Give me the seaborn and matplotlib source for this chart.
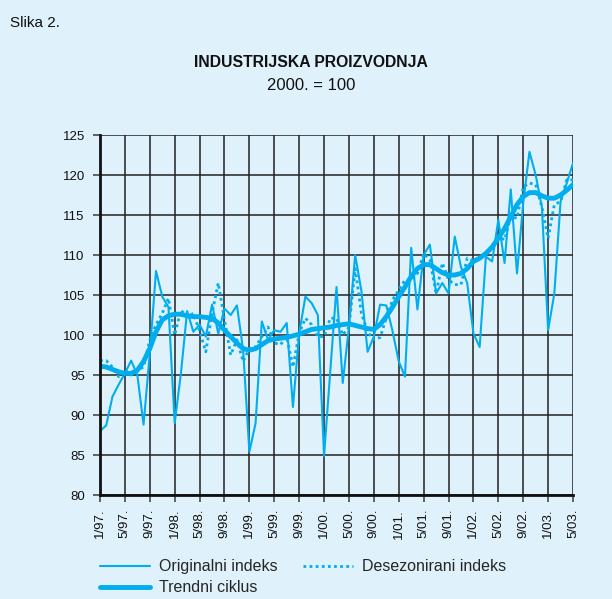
import numpy as np
import pandas as pd
import matplotlib
matplotlib.use("Agg")
import matplotlib.pyplot as plt
import seaborn as sns

# mjesecni podaci 1/97 - 5/03, 2000. = 100
original = [88.0, 88.7, 92.3, 93.8, 95.2, 96.8, 95.0, 88.8, 97.7, 108.0,
            104.8, 103.5, 89.0, 95.2, 103.0, 100.4, 101.3, 99.8, 103.8, 100.2,
            103.3, 102.5, 103.7, 98.1, 85.4, 89.0, 101.7, 99.4, 100.6, 100.4,
            101.5, 91.0, 100.2, 104.8, 104.0, 102.5, 84.9, 95.5, 106.0, 94.0,
            101.0, 110.0, 105.5, 97.9, 99.8, 103.8, 103.7, 100.5, 96.7, 94.8,
            110.9, 103.2, 110.0, 111.3, 105.2, 106.5, 105.2, 112.3, 108.5, 106.5,
            100.2, 98.5, 109.8, 109.2, 114.4, 109.0, 118.2, 107.7, 116.5, 122.9,
            120.0, 116.0, 100.6, 105.2, 116.7, 119.0, 121.5]
desezonirani = [96.8, 96.8, 96.0, 94.8, 95.6, 95.0, 95.6, 96.0, 99.4, 101.3,
                102.7, 104.6, 100.0, 103.1, 102.3, 102.7, 100.5, 97.9, 102.7, 106.5,
                101.9, 97.5, 99.4, 96.7, 98.3, 98.5, 99.8, 101.0, 99.0, 98.8,
                99.8, 96.0, 100.2, 102.1, 101.3, 99.8, 99.8, 102.1, 102.1, 100.0,
                101.0, 108.3, 102.7, 100.4, 99.4, 99.7, 102.1, 104.4, 105.6, 106.9,
                106.9, 107.7, 110.2, 109.4, 105.2, 109.0, 106.9, 106.3, 106.3, 109.6,
                109.3, 109.7, 110.0, 111.0, 112.3, 111.9, 114.8, 114.6, 118.5, 119.0,
                118.8, 116.0, 112.1, 116.3, 116.7, 119.4, 119.4]
trend = [96.1, 96.0, 95.7, 95.4, 95.2, 95.2, 95.6, 96.7, 98.3, 100.4,
         101.9, 102.4, 102.6, 102.6, 102.4, 102.3, 102.3, 102.2, 102.1, 101.5,
         100.6, 99.8, 99.0, 98.3, 98.1, 98.3, 98.8, 99.3, 99.5, 99.6,
         99.7, 99.9, 100.1, 100.4, 100.7, 100.8, 100.9, 101.0, 101.2, 101.3,
         101.4, 101.2, 101.0, 100.8, 100.7, 101.3, 102.3, 103.5, 104.8, 106.0,
         107.3, 108.3, 108.8, 108.8, 108.3, 107.8, 107.5, 107.5, 107.7, 108.3,
         109.2, 109.6, 110.2, 111.0, 112.1, 113.3, 114.8, 116.3, 117.3, 117.8,
         117.8, 117.4, 117.1, 117.1, 117.5, 118.1, 118.8]
tick_labels = ["1/97.", "5/97.", "9/97.", "1/98.", "5/98.", "9/98.", "1/99.",
               "5/99.", "9/99.", "1/00.", "5/00.", "9/00.", "1/01.", "5/01.",
               "9/01.", "1/02.", "5/02.", "9/02.", "1/03.", "5/03."]

bg = "#dff1fb"
plava = "#00aeef"

sns.set_theme(style="white")
plt.rcParams["font.family"] = ["Liberation Sans", "DejaVu Sans"]

mjesec = np.arange(len(original))
df = pd.DataFrame({"mjesec": mjesec, "orig": original,
                   "des": desezonirani, "trend": trend})

fig = plt.figure(figsize=(6.12, 5.99), dpi=100, facecolor=bg)
ax = fig.add_axes([0.1634, 0.1736, 0.7729, 0.601])
ax.set_facecolor(bg)

sns.lineplot(data=df, x="mjesec", y="orig", ax=ax, color=plava, lw=1.5,
             label="Originalni indeks")
sns.lineplot(data=df, x="mjesec", y="trend", ax=ax, color=plava, lw=3.5,
             label="Trendni ciklus")
sns.lineplot(data=df, x="mjesec", y="des", ax=ax, color=plava, lw=2.0,
             ls=(0, (1, 1.2)), label="Desezonirani indeks")

ax.set_xlim(0, 76)
ax.set_ylim(80, 125)
ax.set_yticks(range(80, 126, 5))
ax.set_xticks(range(0, 77, 4))
ax.set_xticklabels(tick_labels, rotation=90)
ax.set_xlabel("")
ax.set_ylabel("")
ax.grid(True, color="#222222", lw=1.3, alpha=0.85)
ax.set_axisbelow(True)
for s in ["top", "right"]:
    ax.spines[s].set_visible(False)
for s in ["left", "bottom"]:
    ax.spines[s].set_color("#111111")
    ax.spines[s].set_linewidth(2)
ax.tick_params(axis="both", which="both", direction="out", length=5,
               width=1.3, color="#555555", labelsize=9.5, labelcolor="#111111",
               left=True, bottom=True)
ax.tick_params(axis="y", pad=6)
ax.tick_params(axis="x", pad=5)

ax.legend(loc="upper left", bbox_to_anchor=(0.0, -0.178), ncol=2,
          frameon=False, fontsize=11.5, handlelength=3.1, handletextpad=0.6,
          columnspacing=1.6, labelspacing=0.4, borderaxespad=0, borderpad=0)

fig.text(0.016, 0.955, "Slika 2.", fontsize=11, color="#111111")
fig.text(0.508, 0.888, "INDUSTRIJSKA PROIZVODNJA", fontsize=11.3,
         fontweight="bold", ha="center", color="#111111")
fig.text(0.508, 0.85, "2000. = 100", fontsize=12, ha="center",
         color="#111111")

fig.savefig("out.png", dpi=100, facecolor=bg)
